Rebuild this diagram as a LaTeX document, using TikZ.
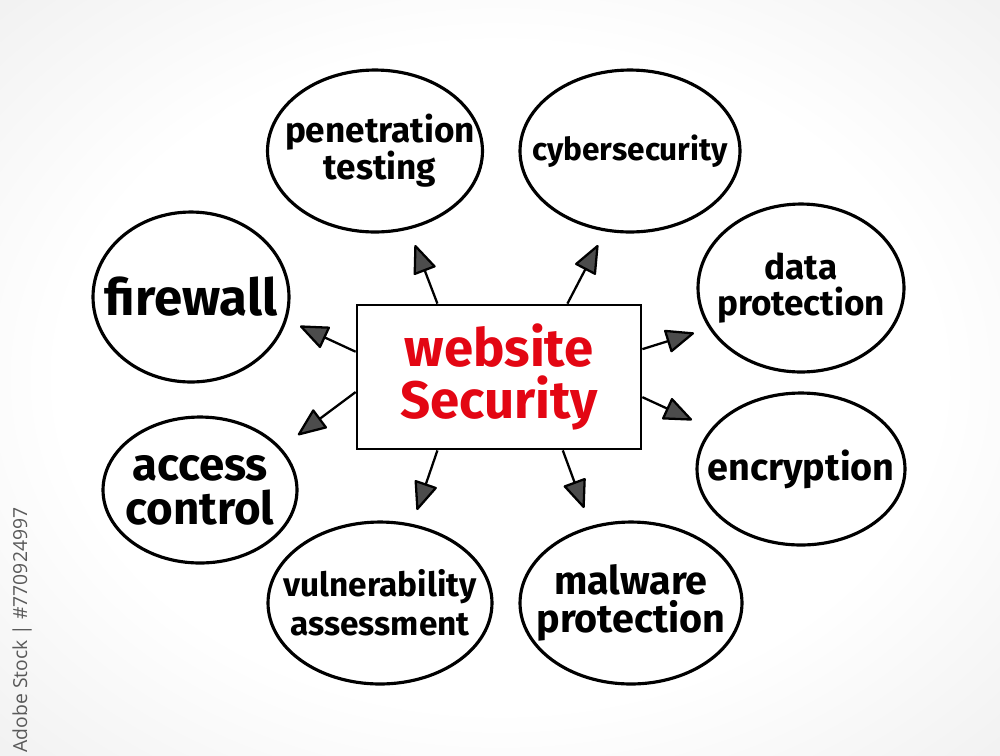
\documentclass[tikz,border=0pt]{standalone}
\usepackage{fontspec}
\setmainfont{Fira Sans}
\newfontfamily\idfont{Open Sans}
\usetikzlibrary{arrows.meta, shapes.geometric}
\definecolor{wsred}{HTML}{E30613}
\pgfdeclareradialshading{bgshade}{\pgfpoint{0bp}{0bp}}{color(0bp)=(white); color(22bp)=(white); color(55bp)=(black!13); color(75bp)=(black!13)}

\begin{document}
\begin{tikzpicture}[x=0.02cm, y=-0.02cm]
	\tikzstyle{Bubble} = [ellipse, draw=black, line width=1.8pt, inner sep=0pt, outer sep=0pt]
	\tikzstyle{Label} = [align=center, font=\bfseries]
	\tikzstyle{Center} = [rectangle, draw=black, line width=1.6pt, fill=white, minimum width=5.68cm, minimum height=2.88cm, inner sep=0pt, align=center, text=wsred, font=\bfseries\fontsize{30}{30}\selectfont]
	\tikzstyle{arrow} = [line width=1.3pt, -{Triangle[length=6mm, width=4.8mm, fill=black!70, line join=round]}]
	
	\shade [shading=bgshade] (0,0) rectangle (1000,755);
	\useasboundingbox (0,0) rectangle (1000,755);
	
	\node (pen) [Bubble, minimum width=4.3cm, minimum height=3.24cm, label={[Label, xshift=1mm, font=\bfseries\fontsize{20}{21}\selectfont]center:penetration\\testing}] at (375,151) {};
	\node (cyb) [Bubble, minimum width=4.4cm, minimum height=3.24cm, label={[Label, font=\bfseries\fontsize{18}{20}\selectfont]center:cybersecurity}] at (630,151) {};
	\node (fw) [Bubble, minimum width=3.92cm, minimum height=3.4cm, label={[Label, font=\bfseries\fontsize{29}{30}\selectfont]center:firewall}] at (191,297) {};
	\node (dp) [Bubble, minimum width=4.12cm, minimum height=3.36cm, label={[Label, font=\bfseries\fontsize{20}{20}\selectfont]center:data\\protection}] at (801,288) {};
	\node (ac) [Bubble, minimum width=3.88cm, minimum height=2.92cm, label={[Label, font=\bfseries\fontsize{26}{25}\selectfont]center:access\\control}] at (200,490) {};
	\node (enc) [Bubble, minimum width=4.16cm, minimum height=3.04cm, label={[Label, font=\bfseries\fontsize{21.5}{22}\selectfont]center:encryption}] at (801,469) {};
	\node (va) [Bubble, minimum width=4.48cm, minimum height=3.24cm, label={[Label, font=\bfseries\fontsize{19}{22}\selectfont]center:vulnerability\\assessment}] at (380,603) {};
	\node (mp) [Bubble, minimum width=4.44cm, minimum height=3.24cm, label={[Label, font=\bfseries\fontsize{22.5}{22}\selectfont]center:malware\\protection}] at (631,603) {};
	
	\node (ws) [Center] at (499,377) {website\\Security};
	
	\coordinate (t1) at (415,245);
	\coordinate (t2) at (598,245);
	\coordinate (t3) at (300,326);
	\coordinate (t4) at (298,435);
	\coordinate (t5) at (694,333);
	\coordinate (t6) at (692,420);
	\coordinate (t7) at (417,510);
	\coordinate (t8) at (584,508);
	\draw [arrow] (ws.130) -- (t1);
	\draw [arrow] (ws.47) -- (t2);
	\draw [arrow] (ws.170) -- (t3);
	\draw [arrow] (ws.186) -- (t4);
	\draw [arrow] (ws.11) -- (t5);
	\draw [arrow] (ws.352) -- (t6);
	\draw [arrow] (ws.230) -- (t7);
	\draw [arrow] (ws.311) -- (t8);
	
	\node (stockid) [rotate=90, text=black!65, font=\idfont\fontsize{11}{11}\selectfont] at (22,630) {Adobe Stock | \#770924997};
\end{tikzpicture}
\end{document}
